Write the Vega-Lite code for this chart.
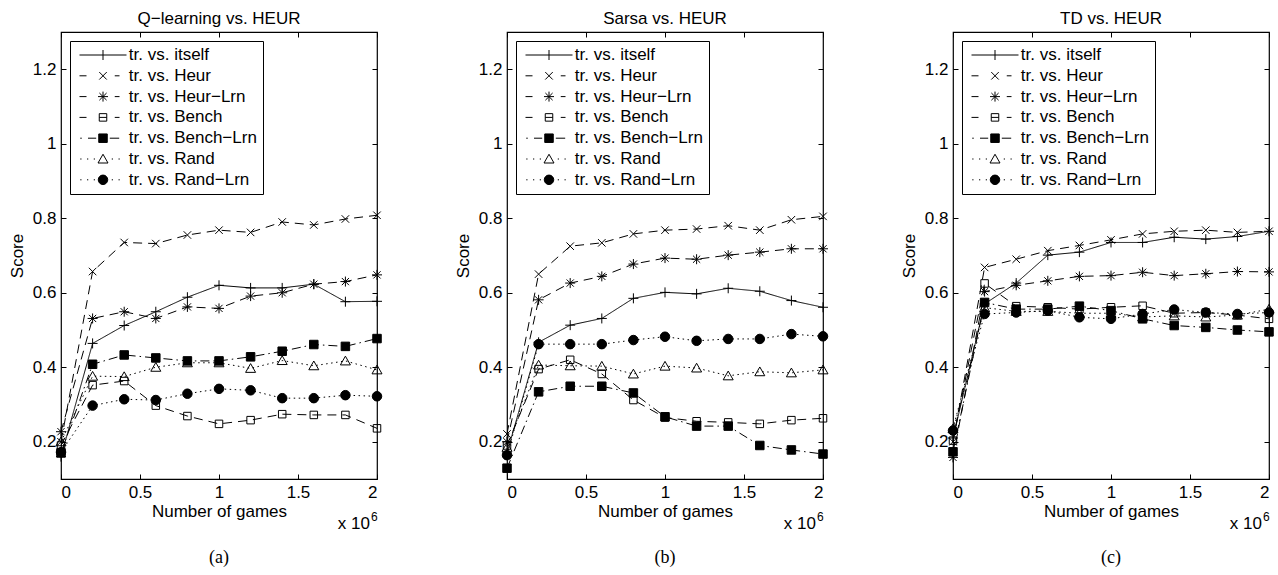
{
"$schema": "https://vega.github.io/schema/vega-lite/v6.json",
"background": "white",
"padding": {"left": 7, "top": 8, "right": 5, "bottom": 5},
"datasets": {"scores": [
{"algo":"Q-learning","series":"tr. vs. itself","games":0,"score":0.16},{"algo":"Q-learning","series":"tr. vs. itself","games":200000,"score":0.464},{"algo":"Q-learning","series":"tr. vs. itself","games":400000,"score":0.512},{"algo":"Q-learning","series":"tr. vs. itself","games":600000,"score":0.549},{"algo":"Q-learning","series":"tr. vs. itself","games":800000,"score":0.588},{"algo":"Q-learning","series":"tr. vs. itself","games":1000000,"score":0.62},{"algo":"Q-learning","series":"tr. vs. itself","games":1200000,"score":0.613},{"algo":"Q-learning","series":"tr. vs. itself","games":1400000,"score":0.613},{"algo":"Q-learning","series":"tr. vs. itself","games":1600000,"score":0.623},{"algo":"Q-learning","series":"tr. vs. itself","games":1800000,"score":0.576},{"algo":"Q-learning","series":"tr. vs. itself","games":2000000,"score":0.577},
{"algo":"Q-learning","series":"tr. vs. Heur","games":0,"score":0.2},{"algo":"Q-learning","series":"tr. vs. Heur","games":200000,"score":0.657},{"algo":"Q-learning","series":"tr. vs. Heur","games":400000,"score":0.735},{"algo":"Q-learning","series":"tr. vs. Heur","games":600000,"score":0.732},{"algo":"Q-learning","series":"tr. vs. Heur","games":800000,"score":0.755},{"algo":"Q-learning","series":"tr. vs. Heur","games":1000000,"score":0.768},{"algo":"Q-learning","series":"tr. vs. Heur","games":1200000,"score":0.762},{"algo":"Q-learning","series":"tr. vs. Heur","games":1400000,"score":0.79},{"algo":"Q-learning","series":"tr. vs. Heur","games":1600000,"score":0.782},{"algo":"Q-learning","series":"tr. vs. Heur","games":1800000,"score":0.798},{"algo":"Q-learning","series":"tr. vs. Heur","games":2000000,"score":0.808},
{"algo":"Q-learning","series":"tr. vs. Heur−Lrn","games":0,"score":0.227},{"algo":"Q-learning","series":"tr. vs. Heur−Lrn","games":200000,"score":0.531},{"algo":"Q-learning","series":"tr. vs. Heur−Lrn","games":400000,"score":0.549},{"algo":"Q-learning","series":"tr. vs. Heur−Lrn","games":600000,"score":0.531},{"algo":"Q-learning","series":"tr. vs. Heur−Lrn","games":800000,"score":0.562},{"algo":"Q-learning","series":"tr. vs. Heur−Lrn","games":1000000,"score":0.558},{"algo":"Q-learning","series":"tr. vs. Heur−Lrn","games":1200000,"score":0.591},{"algo":"Q-learning","series":"tr. vs. Heur−Lrn","games":1400000,"score":0.6},{"algo":"Q-learning","series":"tr. vs. Heur−Lrn","games":1600000,"score":0.623},{"algo":"Q-learning","series":"tr. vs. Heur−Lrn","games":1800000,"score":0.63},{"algo":"Q-learning","series":"tr. vs. Heur−Lrn","games":2000000,"score":0.648},
{"algo":"Q-learning","series":"tr. vs. Bench","games":0,"score":0.19},{"algo":"Q-learning","series":"tr. vs. Bench","games":200000,"score":0.352},{"algo":"Q-learning","series":"tr. vs. Bench","games":400000,"score":0.363},{"algo":"Q-learning","series":"tr. vs. Bench","games":600000,"score":0.297},{"algo":"Q-learning","series":"tr. vs. Bench","games":800000,"score":0.269},{"algo":"Q-learning","series":"tr. vs. Bench","games":1000000,"score":0.248},{"algo":"Q-learning","series":"tr. vs. Bench","games":1200000,"score":0.258},{"algo":"Q-learning","series":"tr. vs. Bench","games":1400000,"score":0.274},{"algo":"Q-learning","series":"tr. vs. Bench","games":1600000,"score":0.272},{"algo":"Q-learning","series":"tr. vs. Bench","games":1800000,"score":0.272},{"algo":"Q-learning","series":"tr. vs. Bench","games":2000000,"score":0.236},
{"algo":"Q-learning","series":"tr. vs. Bench−Lrn","games":0,"score":0.17},{"algo":"Q-learning","series":"tr. vs. Bench−Lrn","games":200000,"score":0.408},{"algo":"Q-learning","series":"tr. vs. Bench−Lrn","games":400000,"score":0.433},{"algo":"Q-learning","series":"tr. vs. Bench−Lrn","games":600000,"score":0.425},{"algo":"Q-learning","series":"tr. vs. Bench−Lrn","games":800000,"score":0.417},{"algo":"Q-learning","series":"tr. vs. Bench−Lrn","games":1000000,"score":0.417},{"algo":"Q-learning","series":"tr. vs. Bench−Lrn","games":1200000,"score":0.428},{"algo":"Q-learning","series":"tr. vs. Bench−Lrn","games":1400000,"score":0.443},{"algo":"Q-learning","series":"tr. vs. Bench−Lrn","games":1600000,"score":0.461},{"algo":"Q-learning","series":"tr. vs. Bench−Lrn","games":1800000,"score":0.456},{"algo":"Q-learning","series":"tr. vs. Bench−Lrn","games":2000000,"score":0.477},
{"algo":"Q-learning","series":"tr. vs. Rand","games":0,"score":0.2},{"algo":"Q-learning","series":"tr. vs. Rand","games":200000,"score":0.376},{"algo":"Q-learning","series":"tr. vs. Rand","games":400000,"score":0.375},{"algo":"Q-learning","series":"tr. vs. Rand","games":600000,"score":0.4},{"algo":"Q-learning","series":"tr. vs. Rand","games":800000,"score":0.412},{"algo":"Q-learning","series":"tr. vs. Rand","games":1000000,"score":0.412},{"algo":"Q-learning","series":"tr. vs. Rand","games":1200000,"score":0.397},{"algo":"Q-learning","series":"tr. vs. Rand","games":1400000,"score":0.418},{"algo":"Q-learning","series":"tr. vs. Rand","games":1600000,"score":0.404},{"algo":"Q-learning","series":"tr. vs. Rand","games":1800000,"score":0.417},{"algo":"Q-learning","series":"tr. vs. Rand","games":2000000,"score":0.393},
{"algo":"Q-learning","series":"tr. vs. Rand−Lrn","games":0,"score":0.172},{"algo":"Q-learning","series":"tr. vs. Rand−Lrn","games":200000,"score":0.297},{"algo":"Q-learning","series":"tr. vs. Rand−Lrn","games":400000,"score":0.314},{"algo":"Q-learning","series":"tr. vs. Rand−Lrn","games":600000,"score":0.312},{"algo":"Q-learning","series":"tr. vs. Rand−Lrn","games":800000,"score":0.329},{"algo":"Q-learning","series":"tr. vs. Rand−Lrn","games":1000000,"score":0.342},{"algo":"Q-learning","series":"tr. vs. Rand−Lrn","games":1200000,"score":0.338},{"algo":"Q-learning","series":"tr. vs. Rand−Lrn","games":1400000,"score":0.317},{"algo":"Q-learning","series":"tr. vs. Rand−Lrn","games":1600000,"score":0.317},{"algo":"Q-learning","series":"tr. vs. Rand−Lrn","games":1800000,"score":0.325},{"algo":"Q-learning","series":"tr. vs. Rand−Lrn","games":2000000,"score":0.322},
{"algo":"Sarsa","series":"tr. vs. itself","games":0,"score":0.17},{"algo":"Sarsa","series":"tr. vs. itself","games":200000,"score":0.467},{"algo":"Sarsa","series":"tr. vs. itself","games":400000,"score":0.513},{"algo":"Sarsa","series":"tr. vs. itself","games":600000,"score":0.531},{"algo":"Sarsa","series":"tr. vs. itself","games":800000,"score":0.585},{"algo":"Sarsa","series":"tr. vs. itself","games":1000000,"score":0.601},{"algo":"Sarsa","series":"tr. vs. itself","games":1200000,"score":0.597},{"algo":"Sarsa","series":"tr. vs. itself","games":1400000,"score":0.612},{"algo":"Sarsa","series":"tr. vs. itself","games":1600000,"score":0.604},{"algo":"Sarsa","series":"tr. vs. itself","games":1800000,"score":0.579},{"algo":"Sarsa","series":"tr. vs. itself","games":2000000,"score":0.561},
{"algo":"Sarsa","series":"tr. vs. Heur","games":0,"score":0.221},{"algo":"Sarsa","series":"tr. vs. Heur","games":200000,"score":0.65},{"algo":"Sarsa","series":"tr. vs. Heur","games":400000,"score":0.725},{"algo":"Sarsa","series":"tr. vs. Heur","games":600000,"score":0.734},{"algo":"Sarsa","series":"tr. vs. Heur","games":800000,"score":0.758},{"algo":"Sarsa","series":"tr. vs. Heur","games":1000000,"score":0.768},{"algo":"Sarsa","series":"tr. vs. Heur","games":1200000,"score":0.771},{"algo":"Sarsa","series":"tr. vs. Heur","games":1400000,"score":0.78},{"algo":"Sarsa","series":"tr. vs. Heur","games":1600000,"score":0.768},{"algo":"Sarsa","series":"tr. vs. Heur","games":1800000,"score":0.796},{"algo":"Sarsa","series":"tr. vs. Heur","games":2000000,"score":0.805},
{"algo":"Sarsa","series":"tr. vs. Heur−Lrn","games":0,"score":0.2},{"algo":"Sarsa","series":"tr. vs. Heur−Lrn","games":200000,"score":0.581},{"algo":"Sarsa","series":"tr. vs. Heur−Lrn","games":400000,"score":0.626},{"algo":"Sarsa","series":"tr. vs. Heur−Lrn","games":600000,"score":0.644},{"algo":"Sarsa","series":"tr. vs. Heur−Lrn","games":800000,"score":0.677},{"algo":"Sarsa","series":"tr. vs. Heur−Lrn","games":1000000,"score":0.693},{"algo":"Sarsa","series":"tr. vs. Heur−Lrn","games":1200000,"score":0.69},{"algo":"Sarsa","series":"tr. vs. Heur−Lrn","games":1400000,"score":0.701},{"algo":"Sarsa","series":"tr. vs. Heur−Lrn","games":1600000,"score":0.709},{"algo":"Sarsa","series":"tr. vs. Heur−Lrn","games":1800000,"score":0.718},{"algo":"Sarsa","series":"tr. vs. Heur−Lrn","games":2000000,"score":0.718},
{"algo":"Sarsa","series":"tr. vs. Bench","games":0,"score":0.19},{"algo":"Sarsa","series":"tr. vs. Bench","games":200000,"score":0.395},{"algo":"Sarsa","series":"tr. vs. Bench","games":400000,"score":0.42},{"algo":"Sarsa","series":"tr. vs. Bench","games":600000,"score":0.382},{"algo":"Sarsa","series":"tr. vs. Bench","games":800000,"score":0.312},{"algo":"Sarsa","series":"tr. vs. Bench","games":1000000,"score":0.265},{"algo":"Sarsa","series":"tr. vs. Bench","games":1200000,"score":0.255},{"algo":"Sarsa","series":"tr. vs. Bench","games":1400000,"score":0.252},{"algo":"Sarsa","series":"tr. vs. Bench","games":1600000,"score":0.248},{"algo":"Sarsa","series":"tr. vs. Bench","games":1800000,"score":0.258},{"algo":"Sarsa","series":"tr. vs. Bench","games":2000000,"score":0.263},
{"algo":"Sarsa","series":"tr. vs. Bench−Lrn","games":0,"score":0.129},{"algo":"Sarsa","series":"tr. vs. Bench−Lrn","games":200000,"score":0.334},{"algo":"Sarsa","series":"tr. vs. Bench−Lrn","games":400000,"score":0.349},{"algo":"Sarsa","series":"tr. vs. Bench−Lrn","games":600000,"score":0.349},{"algo":"Sarsa","series":"tr. vs. Bench−Lrn","games":800000,"score":0.331},{"algo":"Sarsa","series":"tr. vs. Bench−Lrn","games":1000000,"score":0.267},{"algo":"Sarsa","series":"tr. vs. Bench−Lrn","games":1200000,"score":0.242},{"algo":"Sarsa","series":"tr. vs. Bench−Lrn","games":1400000,"score":0.242},{"algo":"Sarsa","series":"tr. vs. Bench−Lrn","games":1600000,"score":0.19},{"algo":"Sarsa","series":"tr. vs. Bench−Lrn","games":1800000,"score":0.178},{"algo":"Sarsa","series":"tr. vs. Bench−Lrn","games":2000000,"score":0.167},
{"algo":"Sarsa","series":"tr. vs. Rand","games":0,"score":0.185},{"algo":"Sarsa","series":"tr. vs. Rand","games":200000,"score":0.406},{"algo":"Sarsa","series":"tr. vs. Rand","games":400000,"score":0.404},{"algo":"Sarsa","series":"tr. vs. Rand","games":600000,"score":0.403},{"algo":"Sarsa","series":"tr. vs. Rand","games":800000,"score":0.382},{"algo":"Sarsa","series":"tr. vs. Rand","games":1000000,"score":0.403},{"algo":"Sarsa","series":"tr. vs. Rand","games":1200000,"score":0.398},{"algo":"Sarsa","series":"tr. vs. Rand","games":1400000,"score":0.377},{"algo":"Sarsa","series":"tr. vs. Rand","games":1600000,"score":0.388},{"algo":"Sarsa","series":"tr. vs. Rand","games":1800000,"score":0.385},{"algo":"Sarsa","series":"tr. vs. Rand","games":2000000,"score":0.393},
{"algo":"Sarsa","series":"tr. vs. Rand−Lrn","games":0,"score":0.164},{"algo":"Sarsa","series":"tr. vs. Rand−Lrn","games":200000,"score":0.462},{"algo":"Sarsa","series":"tr. vs. Rand−Lrn","games":400000,"score":0.462},{"algo":"Sarsa","series":"tr. vs. Rand−Lrn","games":600000,"score":0.462},{"algo":"Sarsa","series":"tr. vs. Rand−Lrn","games":800000,"score":0.473},{"algo":"Sarsa","series":"tr. vs. Rand−Lrn","games":1000000,"score":0.482},{"algo":"Sarsa","series":"tr. vs. Rand−Lrn","games":1200000,"score":0.471},{"algo":"Sarsa","series":"tr. vs. Rand−Lrn","games":1400000,"score":0.476},{"algo":"Sarsa","series":"tr. vs. Rand−Lrn","games":1600000,"score":0.476},{"algo":"Sarsa","series":"tr. vs. Rand−Lrn","games":1800000,"score":0.489},{"algo":"Sarsa","series":"tr. vs. Rand−Lrn","games":2000000,"score":0.483},
{"algo":"TD","series":"tr. vs. itself","games":0,"score":0.21},{"algo":"TD","series":"tr. vs. itself","games":200000,"score":0.57},{"algo":"TD","series":"tr. vs. itself","games":400000,"score":0.626},{"algo":"TD","series":"tr. vs. itself","games":600000,"score":0.701},{"algo":"TD","series":"tr. vs. itself","games":800000,"score":0.709},{"algo":"TD","series":"tr. vs. itself","games":1000000,"score":0.735},{"algo":"TD","series":"tr. vs. itself","games":1200000,"score":0.735},{"algo":"TD","series":"tr. vs. itself","games":1400000,"score":0.749},{"algo":"TD","series":"tr. vs. itself","games":1600000,"score":0.744},{"algo":"TD","series":"tr. vs. itself","games":1800000,"score":0.751},{"algo":"TD","series":"tr. vs. itself","games":2000000,"score":0.765},
{"algo":"TD","series":"tr. vs. Heur","games":0,"score":0.2},{"algo":"TD","series":"tr. vs. Heur","games":200000,"score":0.668},{"algo":"TD","series":"tr. vs. Heur","games":400000,"score":0.69},{"algo":"TD","series":"tr. vs. Heur","games":600000,"score":0.713},{"algo":"TD","series":"tr. vs. Heur","games":800000,"score":0.727},{"algo":"TD","series":"tr. vs. Heur","games":1000000,"score":0.742},{"algo":"TD","series":"tr. vs. Heur","games":1200000,"score":0.758},{"algo":"TD","series":"tr. vs. Heur","games":1400000,"score":0.765},{"algo":"TD","series":"tr. vs. Heur","games":1600000,"score":0.768},{"algo":"TD","series":"tr. vs. Heur","games":1800000,"score":0.762},{"algo":"TD","series":"tr. vs. Heur","games":2000000,"score":0.765},
{"algo":"TD","series":"tr. vs. Heur−Lrn","games":0,"score":0.158},{"algo":"TD","series":"tr. vs. Heur−Lrn","games":200000,"score":0.603},{"algo":"TD","series":"tr. vs. Heur−Lrn","games":400000,"score":0.62},{"algo":"TD","series":"tr. vs. Heur−Lrn","games":600000,"score":0.632},{"algo":"TD","series":"tr. vs. Heur−Lrn","games":800000,"score":0.644},{"algo":"TD","series":"tr. vs. Heur−Lrn","games":1000000,"score":0.646},{"algo":"TD","series":"tr. vs. Heur−Lrn","games":1200000,"score":0.655},{"algo":"TD","series":"tr. vs. Heur−Lrn","games":1400000,"score":0.646},{"algo":"TD","series":"tr. vs. Heur−Lrn","games":1600000,"score":0.651},{"algo":"TD","series":"tr. vs. Heur−Lrn","games":1800000,"score":0.657},{"algo":"TD","series":"tr. vs. Heur−Lrn","games":2000000,"score":0.656},
{"algo":"TD","series":"tr. vs. Bench","games":0,"score":0.203},{"algo":"TD","series":"tr. vs. Bench","games":200000,"score":0.625},{"algo":"TD","series":"tr. vs. Bench","games":400000,"score":0.564},{"algo":"TD","series":"tr. vs. Bench","games":600000,"score":0.561},{"algo":"TD","series":"tr. vs. Bench","games":800000,"score":0.556},{"algo":"TD","series":"tr. vs. Bench","games":1000000,"score":0.561},{"algo":"TD","series":"tr. vs. Bench","games":1200000,"score":0.565},{"algo":"TD","series":"tr. vs. Bench","games":1400000,"score":0.545},{"algo":"TD","series":"tr. vs. Bench","games":1600000,"score":0.547},{"algo":"TD","series":"tr. vs. Bench","games":1800000,"score":0.54},{"algo":"TD","series":"tr. vs. Bench","games":2000000,"score":0.53},
{"algo":"TD","series":"tr. vs. Bench−Lrn","games":0,"score":0.173},{"algo":"TD","series":"tr. vs. Bench−Lrn","games":200000,"score":0.574},{"algo":"TD","series":"tr. vs. Bench−Lrn","games":400000,"score":0.556},{"algo":"TD","series":"tr. vs. Bench−Lrn","games":600000,"score":0.556},{"algo":"TD","series":"tr. vs. Bench−Lrn","games":800000,"score":0.564},{"algo":"TD","series":"tr. vs. Bench−Lrn","games":1000000,"score":0.552},{"algo":"TD","series":"tr. vs. Bench−Lrn","games":1200000,"score":0.53},{"algo":"TD","series":"tr. vs. Bench−Lrn","games":1400000,"score":0.512},{"algo":"TD","series":"tr. vs. Bench−Lrn","games":1600000,"score":0.507},{"algo":"TD","series":"tr. vs. Bench−Lrn","games":1800000,"score":0.5},{"algo":"TD","series":"tr. vs. Bench−Lrn","games":2000000,"score":0.495},
{"algo":"TD","series":"tr. vs. Rand","games":0,"score":0.235},{"algo":"TD","series":"tr. vs. Rand","games":200000,"score":0.56},{"algo":"TD","series":"tr. vs. Rand","games":400000,"score":0.55},{"algo":"TD","series":"tr. vs. Rand","games":600000,"score":0.55},{"algo":"TD","series":"tr. vs. Rand","games":800000,"score":0.545},{"algo":"TD","series":"tr. vs. Rand","games":1000000,"score":0.545},{"algo":"TD","series":"tr. vs. Rand","games":1200000,"score":0.535},{"algo":"TD","series":"tr. vs. Rand","games":1400000,"score":0.538},{"algo":"TD","series":"tr. vs. Rand","games":1600000,"score":0.535},{"algo":"TD","series":"tr. vs. Rand","games":1800000,"score":0.54},{"algo":"TD","series":"tr. vs. Rand","games":2000000,"score":0.556},
{"algo":"TD","series":"tr. vs. Rand−Lrn","games":0,"score":0.23},{"algo":"TD","series":"tr. vs. Rand−Lrn","games":200000,"score":0.543},{"algo":"TD","series":"tr. vs. Rand−Lrn","games":400000,"score":0.547},{"algo":"TD","series":"tr. vs. Rand−Lrn","games":600000,"score":0.552},{"algo":"TD","series":"tr. vs. Rand−Lrn","games":800000,"score":0.534},{"algo":"TD","series":"tr. vs. Rand−Lrn","games":1000000,"score":0.53},{"algo":"TD","series":"tr. vs. Rand−Lrn","games":1200000,"score":0.543},{"algo":"TD","series":"tr. vs. Rand−Lrn","games":1400000,"score":0.555},{"algo":"TD","series":"tr. vs. Rand−Lrn","games":1600000,"score":0.547},{"algo":"TD","series":"tr. vs. Rand−Lrn","games":1800000,"score":0.543},{"algo":"TD","series":"tr. vs. Rand−Lrn","games":2000000,"score":0.547}
]},
"spacing": 130,
"bounds": "flush",
"resolve": {"scale": {"strokeDash": "independent", "shape": "independent", "fill": "independent"}, "legend": {"strokeDash": "independent", "shape": "independent", "fill": "independent"}},
"hconcat": [
{
 "width": 316, "height": 447,
 "title": {"text": "Q−learning vs. HEUR"},
 "resolve": {"axis": {"x": "independent", "y": "independent"}, "scale": {"shape": "independent", "fill": "independent"}},
 "layer": [
  {"data": {"name": "scores"}, "transform": [{"filter": "datum.algo === 'Q-learning'"}],
   "mark": {"type": "line", "color": "black", "strokeWidth": 1},
   "encoding": {
    "x": {"field": "games", "type": "quantitative", "scale": {"domain": [0, 2000000], "nice": false, "zero": false}, "axis": {"orient": "bottom", "values": [0, 500000, 1000000, 1500000, 2000000], "labelExpr": "'' + (datum.value / 1000000)", "title": "Number of games", "tickSize": -5, "labelPadding": 10, "titlePadding": 3}},
    "y": {"field": "score", "type": "quantitative", "scale": {"domain": [0.1, 1.3], "nice": false, "zero": false}, "axis": {"orient": "left", "values": [0.2, 0.4, 0.6, 0.8, 1, 1.2], "labelExpr": "'' + datum.value", "title": "Score", "tickSize": -5, "labelPadding": 10, "titlePadding": 6}},
    "strokeDash": {"field": "series", "type": "nominal", "legend": null,
     "scale": {"domain": ["tr. vs. Rand−Lrn", "tr. vs. Rand", "tr. vs. Bench−Lrn", "tr. vs. Bench", "tr. vs. Heur−Lrn", "tr. vs. Heur", "tr. vs. itself"], "range": [[1.5, 3.5], [1.5, 3.5], [9, 4, 1.5, 4], [9, 6], [9, 6], [9, 6], [1, 0]]}}
   }},
  {"data": {"name": "scores"}, "transform": [{"filter": "datum.algo === 'Q-learning'"}],
   "mark": {"type": "point", "filled": false, "stroke": "black", "strokeWidth": 1, "size": 100, "opacity": 1},
   "encoding": {
    "x": {"field": "games", "type": "quantitative", "scale": {"domain": [0, 2000000], "nice": false, "zero": false}, "axis": {"orient": "top", "values": [0, 500000, 1000000, 1500000, 2000000], "labels": false, "title": null, "tickSize": -5}},
    "y": {"field": "score", "type": "quantitative", "scale": {"domain": [0.1, 1.3], "nice": false, "zero": false}, "axis": {"orient": "right", "values": [0.2, 0.4, 0.6, 0.8, 1, 1.2], "labels": false, "title": null, "tickSize": -5}},
    "shape": {"field": "series", "type": "nominal", "legend": null,
     "scale": {"domain": ["tr. vs. Rand−Lrn", "tr. vs. Rand", "tr. vs. Bench−Lrn", "tr. vs. Bench", "tr. vs. Heur−Lrn", "tr. vs. Heur", "tr. vs. itself"], "range": ["M0.95,0A0.95,0.95,0,1,1,-0.95,0A0.95,0.95,0,1,1,0.95,0Z", "M0,-0.95L1,0.8H-1Z", "M-0.85,-0.85H0.85V0.85H-0.85Z", "M-0.75,-0.75H0.75V0.75H-0.75Z", "M-1,0H1M0,-1V1M-0.72,-0.72L0.72,0.72M-0.72,0.72L0.72,-0.72", "M-0.75,-0.75L0.75,0.75M-0.75,0.75L0.75,-0.75", "M-1,0H1M0,-1V1"]}},
    "fill": {"condition": {"test": "datum.series === 'tr. vs. Bench−Lrn' || datum.series === 'tr. vs. Rand−Lrn'", "value": "black"}, "value": "transparent"}
   }},
  {"data": {"name": "scores"}, "transform": [{"filter": "datum.algo === 'Q-learning'"}],
   "mark": {"type": "point", "filled": false, "stroke": "black", "strokeWidth": 1, "size": 10, "opacity": 0},
   "encoding": {
    "x": {"field": "games", "type": "quantitative", "scale": {"domain": [0, 2000000], "nice": false, "zero": false}, "axis": null},
    "y": {"field": "score", "type": "quantitative", "scale": {"domain": [0.1, 1.3], "nice": false, "zero": false}, "axis": null},
    "shape": {"field": "series", "type": "nominal",
     "scale": {"domain": ["tr. vs. itself", "tr. vs. Heur", "tr. vs. Heur−Lrn", "tr. vs. Bench", "tr. vs. Bench−Lrn", "tr. vs. Rand", "tr. vs. Rand−Lrn"], "range": ["M-4.7,0H4.7M0,-1V1", "M-4.7,0H-3.3M2.35,0H3.3M-0.75,-0.75L0.75,0.75M-0.75,0.75L0.75,-0.75", "M-4.7,0H-3.3M2.35,0H3.3M-1,0H1M0,-1V1M-0.72,-0.72L0.72,0.72M-0.72,0.72L0.72,-0.72", "M-4.7,0H-3.3M2.35,0H3.3M-0.75,0H0.75M-0.75,-0.75H0.75V0.75H-0.75Z", "M-4.55,0H-4.25M-3,0H-1.36M1.36,0H3.24M-0.85,-0.85H0.85V0.85H-0.85Z", "M-4.55,0H-4.3M-3.2,0H-2.95M-1.85,0H-1.6M1.75,0H2M3.1,0H3.35M0,-0.95L1,0.8H-1Z", "M-4.55,0H-4.3M-3.2,0H-2.95M-1.85,0H-1.6M1.75,0H2M3.1,0H3.35M0.95,0A0.95,0.95,0,1,1,-0.95,0A0.95,0.95,0,1,1,0.95,0Z"]},
     "legend": {"orient": "top-left", "offset": 9, "title": null, "padding": 5.5, "rowPadding": 2.8, "strokeColor": "black", "fillColor": "white", "labelFont": "Liberation Sans", "labelFontSize": 17, "labelColor": "black", "labelOffset": 17.3, "labelLimit": 300, "symbolSize": 100, "symbolStrokeWidth": 1, "symbolStrokeColor": "black", "symbolFillColor": "transparent", "symbolOpacity": 1, "symbolOffset": 19}},
    "fill": {"field": "series", "type": "nominal",
     "scale": {"domain": ["tr. vs. itself", "tr. vs. Heur", "tr. vs. Heur−Lrn", "tr. vs. Bench", "tr. vs. Bench−Lrn", "tr. vs. Rand", "tr. vs. Rand−Lrn"], "range": ["transparent", "transparent", "transparent", "transparent", "black", "transparent", "black"]},
     "legend": {"orient": "top-left", "offset": 9, "title": null, "padding": 5.5, "rowPadding": 2.8, "strokeColor": "black", "fillColor": "white", "labelFont": "Liberation Sans", "labelFontSize": 17, "labelColor": "black", "labelOffset": 17.3, "labelLimit": 300, "symbolSize": 100, "symbolStrokeWidth": 1, "symbolStrokeColor": "black", "symbolFillColor": "transparent", "symbolOpacity": 1, "symbolOffset": 19}}
   }},
  {"data": {"values": [{"label": "x 10"}]},
   "mark": {"type": "text", "align": "right", "baseline": "alphabetic", "dx": -7, "dy": 50, "font": "Liberation Sans", "fontSize": 17, "color": "black"},
   "encoding": {"text": {"field": "label"}, "x": {"datum": 2000000, "type": "quantitative", "axis": null}, "y": {"datum": 0.1, "type": "quantitative", "axis": null}}},
  {"data": {"values": [{"label": "6"}]},
   "mark": {"type": "text", "align": "left", "baseline": "alphabetic", "dx": -6, "dy": 42, "font": "Liberation Sans", "fontSize": 12, "color": "black"},
   "encoding": {"text": {"field": "label"}, "x": {"datum": 2000000, "type": "quantitative", "axis": null}, "y": {"datum": 0.1, "type": "quantitative", "axis": null}}},
  {"data": {"values": [{"label": "(a)"}]},
   "mark": {"type": "text", "align": "center", "baseline": "alphabetic", "dy": 84, "font": "Liberation Serif", "fontSize": 18, "color": "black"},
   "encoding": {"text": {"field": "label"}, "x": {"datum": 1000000, "type": "quantitative", "axis": null}, "y": {"datum": 0.1, "type": "quantitative", "axis": null}}}
 ]
},
{
 "width": 316, "height": 447,
 "title": {"text": "Sarsa vs. HEUR"},
 "resolve": {"axis": {"x": "independent", "y": "independent"}, "scale": {"shape": "independent", "fill": "independent"}},
 "layer": [
  {"data": {"name": "scores"}, "transform": [{"filter": "datum.algo === 'Sarsa'"}],
   "mark": {"type": "line", "color": "black", "strokeWidth": 1},
   "encoding": {
    "x": {"field": "games", "type": "quantitative", "scale": {"domain": [0, 2000000], "nice": false, "zero": false}, "axis": {"orient": "bottom", "values": [0, 500000, 1000000, 1500000, 2000000], "labelExpr": "'' + (datum.value / 1000000)", "title": "Number of games", "tickSize": -5, "labelPadding": 10, "titlePadding": 3}},
    "y": {"field": "score", "type": "quantitative", "scale": {"domain": [0.1, 1.3], "nice": false, "zero": false}, "axis": {"orient": "left", "values": [0.2, 0.4, 0.6, 0.8, 1, 1.2], "labelExpr": "'' + datum.value", "title": "Score", "tickSize": -5, "labelPadding": 10, "titlePadding": 6}},
    "strokeDash": {"field": "series", "type": "nominal", "legend": null,
     "scale": {"domain": ["tr. vs. Rand−Lrn", "tr. vs. Rand", "tr. vs. Bench−Lrn", "tr. vs. Bench", "tr. vs. Heur−Lrn", "tr. vs. Heur", "tr. vs. itself"], "range": [[1.5, 3.5], [1.5, 3.5], [9, 4, 1.5, 4], [9, 6], [9, 6], [9, 6], [1, 0]]}}
   }},
  {"data": {"name": "scores"}, "transform": [{"filter": "datum.algo === 'Sarsa'"}],
   "mark": {"type": "point", "filled": false, "stroke": "black", "strokeWidth": 1, "size": 100, "opacity": 1},
   "encoding": {
    "x": {"field": "games", "type": "quantitative", "scale": {"domain": [0, 2000000], "nice": false, "zero": false}, "axis": {"orient": "top", "values": [0, 500000, 1000000, 1500000, 2000000], "labels": false, "title": null, "tickSize": -5}},
    "y": {"field": "score", "type": "quantitative", "scale": {"domain": [0.1, 1.3], "nice": false, "zero": false}, "axis": {"orient": "right", "values": [0.2, 0.4, 0.6, 0.8, 1, 1.2], "labels": false, "title": null, "tickSize": -5}},
    "shape": {"field": "series", "type": "nominal", "legend": null,
     "scale": {"domain": ["tr. vs. Rand−Lrn", "tr. vs. Rand", "tr. vs. Bench−Lrn", "tr. vs. Bench", "tr. vs. Heur−Lrn", "tr. vs. Heur", "tr. vs. itself"], "range": ["M0.95,0A0.95,0.95,0,1,1,-0.95,0A0.95,0.95,0,1,1,0.95,0Z", "M0,-0.95L1,0.8H-1Z", "M-0.85,-0.85H0.85V0.85H-0.85Z", "M-0.75,-0.75H0.75V0.75H-0.75Z", "M-1,0H1M0,-1V1M-0.72,-0.72L0.72,0.72M-0.72,0.72L0.72,-0.72", "M-0.75,-0.75L0.75,0.75M-0.75,0.75L0.75,-0.75", "M-1,0H1M0,-1V1"]}},
    "fill": {"condition": {"test": "datum.series === 'tr. vs. Bench−Lrn' || datum.series === 'tr. vs. Rand−Lrn'", "value": "black"}, "value": "transparent"}
   }},
  {"data": {"name": "scores"}, "transform": [{"filter": "datum.algo === 'Sarsa'"}],
   "mark": {"type": "point", "filled": false, "stroke": "black", "strokeWidth": 1, "size": 10, "opacity": 0},
   "encoding": {
    "x": {"field": "games", "type": "quantitative", "scale": {"domain": [0, 2000000], "nice": false, "zero": false}, "axis": null},
    "y": {"field": "score", "type": "quantitative", "scale": {"domain": [0.1, 1.3], "nice": false, "zero": false}, "axis": null},
    "shape": {"field": "series", "type": "nominal",
     "scale": {"domain": ["tr. vs. itself", "tr. vs. Heur", "tr. vs. Heur−Lrn", "tr. vs. Bench", "tr. vs. Bench−Lrn", "tr. vs. Rand", "tr. vs. Rand−Lrn"], "range": ["M-4.7,0H4.7M0,-1V1", "M-4.7,0H-3.3M2.35,0H3.3M-0.75,-0.75L0.75,0.75M-0.75,0.75L0.75,-0.75", "M-4.7,0H-3.3M2.35,0H3.3M-1,0H1M0,-1V1M-0.72,-0.72L0.72,0.72M-0.72,0.72L0.72,-0.72", "M-4.7,0H-3.3M2.35,0H3.3M-0.75,0H0.75M-0.75,-0.75H0.75V0.75H-0.75Z", "M-4.55,0H-4.25M-3,0H-1.36M1.36,0H3.24M-0.85,-0.85H0.85V0.85H-0.85Z", "M-4.55,0H-4.3M-3.2,0H-2.95M-1.85,0H-1.6M1.75,0H2M3.1,0H3.35M0,-0.95L1,0.8H-1Z", "M-4.55,0H-4.3M-3.2,0H-2.95M-1.85,0H-1.6M1.75,0H2M3.1,0H3.35M0.95,0A0.95,0.95,0,1,1,-0.95,0A0.95,0.95,0,1,1,0.95,0Z"]},
     "legend": {"orient": "top-left", "offset": 9, "title": null, "padding": 5.5, "rowPadding": 2.8, "strokeColor": "black", "fillColor": "white", "labelFont": "Liberation Sans", "labelFontSize": 17, "labelColor": "black", "labelOffset": 17.3, "labelLimit": 300, "symbolSize": 100, "symbolStrokeWidth": 1, "symbolStrokeColor": "black", "symbolFillColor": "transparent", "symbolOpacity": 1, "symbolOffset": 19}},
    "fill": {"field": "series", "type": "nominal",
     "scale": {"domain": ["tr. vs. itself", "tr. vs. Heur", "tr. vs. Heur−Lrn", "tr. vs. Bench", "tr. vs. Bench−Lrn", "tr. vs. Rand", "tr. vs. Rand−Lrn"], "range": ["transparent", "transparent", "transparent", "transparent", "black", "transparent", "black"]},
     "legend": {"orient": "top-left", "offset": 9, "title": null, "padding": 5.5, "rowPadding": 2.8, "strokeColor": "black", "fillColor": "white", "labelFont": "Liberation Sans", "labelFontSize": 17, "labelColor": "black", "labelOffset": 17.3, "labelLimit": 300, "symbolSize": 100, "symbolStrokeWidth": 1, "symbolStrokeColor": "black", "symbolFillColor": "transparent", "symbolOpacity": 1, "symbolOffset": 19}}
   }},
  {"data": {"values": [{"label": "x 10"}]},
   "mark": {"type": "text", "align": "right", "baseline": "alphabetic", "dx": -7, "dy": 50, "font": "Liberation Sans", "fontSize": 17, "color": "black"},
   "encoding": {"text": {"field": "label"}, "x": {"datum": 2000000, "type": "quantitative", "axis": null}, "y": {"datum": 0.1, "type": "quantitative", "axis": null}}},
  {"data": {"values": [{"label": "6"}]},
   "mark": {"type": "text", "align": "left", "baseline": "alphabetic", "dx": -6, "dy": 42, "font": "Liberation Sans", "fontSize": 12, "color": "black"},
   "encoding": {"text": {"field": "label"}, "x": {"datum": 2000000, "type": "quantitative", "axis": null}, "y": {"datum": 0.1, "type": "quantitative", "axis": null}}},
  {"data": {"values": [{"label": "(b)"}]},
   "mark": {"type": "text", "align": "center", "baseline": "alphabetic", "dy": 84, "font": "Liberation Serif", "fontSize": 18, "color": "black"},
   "encoding": {"text": {"field": "label"}, "x": {"datum": 1000000, "type": "quantitative", "axis": null}, "y": {"datum": 0.1, "type": "quantitative", "axis": null}}}
 ]
},
{
 "width": 316, "height": 447,
 "title": {"text": "TD vs. HEUR"},
 "resolve": {"axis": {"x": "independent", "y": "independent"}, "scale": {"shape": "independent", "fill": "independent"}},
 "layer": [
  {"data": {"name": "scores"}, "transform": [{"filter": "datum.algo === 'TD'"}],
   "mark": {"type": "line", "color": "black", "strokeWidth": 1},
   "encoding": {
    "x": {"field": "games", "type": "quantitative", "scale": {"domain": [0, 2000000], "nice": false, "zero": false}, "axis": {"orient": "bottom", "values": [0, 500000, 1000000, 1500000, 2000000], "labelExpr": "'' + (datum.value / 1000000)", "title": "Number of games", "tickSize": -5, "labelPadding": 10, "titlePadding": 3}},
    "y": {"field": "score", "type": "quantitative", "scale": {"domain": [0.1, 1.3], "nice": false, "zero": false}, "axis": {"orient": "left", "values": [0.2, 0.4, 0.6, 0.8, 1, 1.2], "labelExpr": "'' + datum.value", "title": "Score", "tickSize": -5, "labelPadding": 10, "titlePadding": 6}},
    "strokeDash": {"field": "series", "type": "nominal", "legend": null,
     "scale": {"domain": ["tr. vs. Rand−Lrn", "tr. vs. Rand", "tr. vs. Bench−Lrn", "tr. vs. Bench", "tr. vs. Heur−Lrn", "tr. vs. Heur", "tr. vs. itself"], "range": [[1.5, 3.5], [1.5, 3.5], [9, 4, 1.5, 4], [9, 6], [9, 6], [9, 6], [1, 0]]}}
   }},
  {"data": {"name": "scores"}, "transform": [{"filter": "datum.algo === 'TD'"}],
   "mark": {"type": "point", "filled": false, "stroke": "black", "strokeWidth": 1, "size": 100, "opacity": 1},
   "encoding": {
    "x": {"field": "games", "type": "quantitative", "scale": {"domain": [0, 2000000], "nice": false, "zero": false}, "axis": {"orient": "top", "values": [0, 500000, 1000000, 1500000, 2000000], "labels": false, "title": null, "tickSize": -5}},
    "y": {"field": "score", "type": "quantitative", "scale": {"domain": [0.1, 1.3], "nice": false, "zero": false}, "axis": {"orient": "right", "values": [0.2, 0.4, 0.6, 0.8, 1, 1.2], "labels": false, "title": null, "tickSize": -5}},
    "shape": {"field": "series", "type": "nominal", "legend": null,
     "scale": {"domain": ["tr. vs. Rand−Lrn", "tr. vs. Rand", "tr. vs. Bench−Lrn", "tr. vs. Bench", "tr. vs. Heur−Lrn", "tr. vs. Heur", "tr. vs. itself"], "range": ["M0.95,0A0.95,0.95,0,1,1,-0.95,0A0.95,0.95,0,1,1,0.95,0Z", "M0,-0.95L1,0.8H-1Z", "M-0.85,-0.85H0.85V0.85H-0.85Z", "M-0.75,-0.75H0.75V0.75H-0.75Z", "M-1,0H1M0,-1V1M-0.72,-0.72L0.72,0.72M-0.72,0.72L0.72,-0.72", "M-0.75,-0.75L0.75,0.75M-0.75,0.75L0.75,-0.75", "M-1,0H1M0,-1V1"]}},
    "fill": {"condition": {"test": "datum.series === 'tr. vs. Bench−Lrn' || datum.series === 'tr. vs. Rand−Lrn'", "value": "black"}, "value": "transparent"}
   }},
  {"data": {"name": "scores"}, "transform": [{"filter": "datum.algo === 'TD'"}],
   "mark": {"type": "point", "filled": false, "stroke": "black", "strokeWidth": 1, "size": 10, "opacity": 0},
   "encoding": {
    "x": {"field": "games", "type": "quantitative", "scale": {"domain": [0, 2000000], "nice": false, "zero": false}, "axis": null},
    "y": {"field": "score", "type": "quantitative", "scale": {"domain": [0.1, 1.3], "nice": false, "zero": false}, "axis": null},
    "shape": {"field": "series", "type": "nominal",
     "scale": {"domain": ["tr. vs. itself", "tr. vs. Heur", "tr. vs. Heur−Lrn", "tr. vs. Bench", "tr. vs. Bench−Lrn", "tr. vs. Rand", "tr. vs. Rand−Lrn"], "range": ["M-4.7,0H4.7M0,-1V1", "M-4.7,0H-3.3M2.35,0H3.3M-0.75,-0.75L0.75,0.75M-0.75,0.75L0.75,-0.75", "M-4.7,0H-3.3M2.35,0H3.3M-1,0H1M0,-1V1M-0.72,-0.72L0.72,0.72M-0.72,0.72L0.72,-0.72", "M-4.7,0H-3.3M2.35,0H3.3M-0.75,0H0.75M-0.75,-0.75H0.75V0.75H-0.75Z", "M-4.55,0H-4.25M-3,0H-1.36M1.36,0H3.24M-0.85,-0.85H0.85V0.85H-0.85Z", "M-4.55,0H-4.3M-3.2,0H-2.95M-1.85,0H-1.6M1.75,0H2M3.1,0H3.35M0,-0.95L1,0.8H-1Z", "M-4.55,0H-4.3M-3.2,0H-2.95M-1.85,0H-1.6M1.75,0H2M3.1,0H3.35M0.95,0A0.95,0.95,0,1,1,-0.95,0A0.95,0.95,0,1,1,0.95,0Z"]},
     "legend": {"orient": "top-left", "offset": 9, "title": null, "padding": 5.5, "rowPadding": 2.8, "strokeColor": "black", "fillColor": "white", "labelFont": "Liberation Sans", "labelFontSize": 17, "labelColor": "black", "labelOffset": 17.3, "labelLimit": 300, "symbolSize": 100, "symbolStrokeWidth": 1, "symbolStrokeColor": "black", "symbolFillColor": "transparent", "symbolOpacity": 1, "symbolOffset": 19}},
    "fill": {"field": "series", "type": "nominal",
     "scale": {"domain": ["tr. vs. itself", "tr. vs. Heur", "tr. vs. Heur−Lrn", "tr. vs. Bench", "tr. vs. Bench−Lrn", "tr. vs. Rand", "tr. vs. Rand−Lrn"], "range": ["transparent", "transparent", "transparent", "transparent", "black", "transparent", "black"]},
     "legend": {"orient": "top-left", "offset": 9, "title": null, "padding": 5.5, "rowPadding": 2.8, "strokeColor": "black", "fillColor": "white", "labelFont": "Liberation Sans", "labelFontSize": 17, "labelColor": "black", "labelOffset": 17.3, "labelLimit": 300, "symbolSize": 100, "symbolStrokeWidth": 1, "symbolStrokeColor": "black", "symbolFillColor": "transparent", "symbolOpacity": 1, "symbolOffset": 19}}
   }},
  {"data": {"values": [{"label": "x 10"}]},
   "mark": {"type": "text", "align": "right", "baseline": "alphabetic", "dx": -7, "dy": 50, "font": "Liberation Sans", "fontSize": 17, "color": "black"},
   "encoding": {"text": {"field": "label"}, "x": {"datum": 2000000, "type": "quantitative", "axis": null}, "y": {"datum": 0.1, "type": "quantitative", "axis": null}}},
  {"data": {"values": [{"label": "6"}]},
   "mark": {"type": "text", "align": "left", "baseline": "alphabetic", "dx": -6, "dy": 42, "font": "Liberation Sans", "fontSize": 12, "color": "black"},
   "encoding": {"text": {"field": "label"}, "x": {"datum": 2000000, "type": "quantitative", "axis": null}, "y": {"datum": 0.1, "type": "quantitative", "axis": null}}},
  {"data": {"values": [{"label": "(c)"}]},
   "mark": {"type": "text", "align": "center", "baseline": "alphabetic", "dy": 84, "font": "Liberation Serif", "fontSize": 18, "color": "black"},
   "encoding": {"text": {"field": "label"}, "x": {"datum": 1000000, "type": "quantitative", "axis": null}, "y": {"datum": 0.1, "type": "quantitative", "axis": null}}}
 ]
}
],
"config": {
 "view": {"stroke": "black", "strokeWidth": 1.2},
 "axis": {"grid": false, "domain": false, "tickColor": "black", "tickWidth": 1, "labelColor": "black", "labelFont": "Liberation Sans", "labelFontSize": 17, "titleFont": "Liberation Sans", "titleFontSize": 17, "titleFontWeight": "normal", "titleColor": "black"},
 "title": {"font": "Liberation Sans", "fontSize": 17, "fontWeight": "normal", "color": "black", "anchor": "middle", "frame": "group", "offset": 4}
}
}
